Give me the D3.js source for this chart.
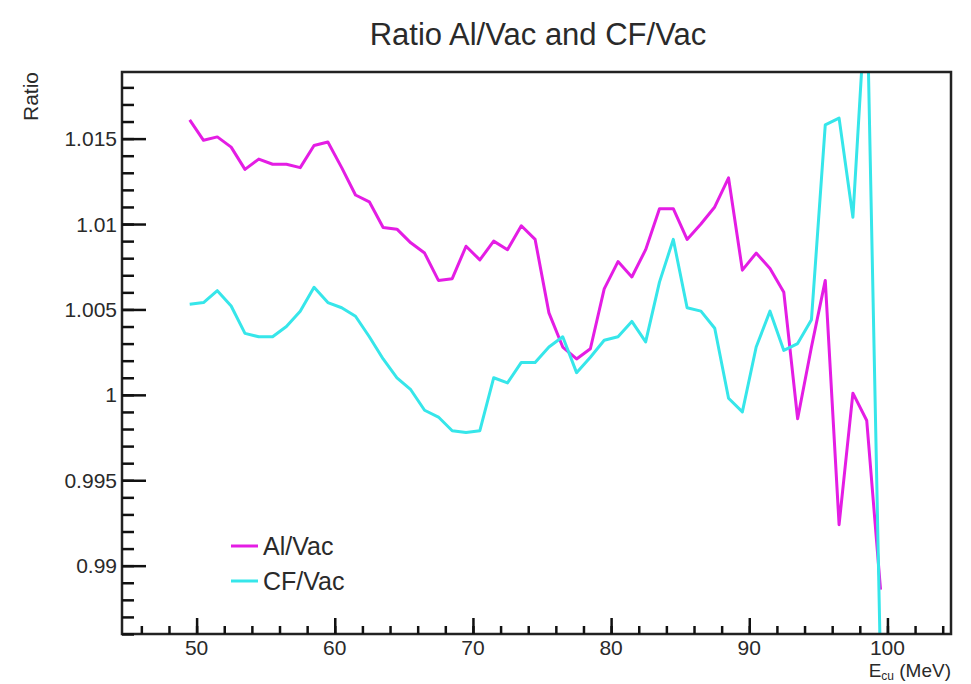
<!DOCTYPE html>
<html>
<head>
<meta charset="utf-8">
<script src="https://cdn.jsdelivr.net/npm/d3@7"></script>
<style>
  body { margin: 0; background: white; }
  text { font-family: "Liberation Sans", Arial, sans-serif; fill: #2a2a2a; }
</style>
</head>
<body>
<div id="chart"></div>
<script>
// energies (MeV), one point per bin
const energy = [49.5, 50.5, 51.5, 52.5, 53.5, 54.5, 55.5, 56.5, 57.5, 58.5,
                59.5, 60.5, 61.5, 62.5, 63.5, 64.5, 65.5, 66.5, 67.5, 68.5,
                69.5, 70.5, 71.5, 72.5, 73.5, 74.5, 75.5, 76.5, 77.5, 78.5,
                79.5, 80.5, 81.5, 82.5, 83.5, 84.5, 85.5, 86.5, 87.5, 88.5,
                89.5, 90.5, 91.5, 92.5, 93.5, 94.5, 95.5, 96.5, 97.5, 98.5, 99.5];

const alVac = [1.0161, 1.0149, 1.0151, 1.0145, 1.0132, 1.0138, 1.0135, 1.0135, 1.0133, 1.0146,
               1.0148, 1.0133, 1.0117, 1.0113, 1.0098, 1.0097, 1.0089, 1.0083, 1.0067, 1.0068,
               1.0087, 1.0079, 1.0090, 1.0085, 1.0099, 1.0091, 1.0048, 1.0028, 1.0021, 1.0027,
               1.0062, 1.0078, 1.0069, 1.0085, 1.0109, 1.0109, 1.0091, 1.0100, 1.0110, 1.0127,
               1.0073, 1.0083, 1.0074, 1.0060, 0.9986, 1.0028, 1.0067, 0.9924, 1.0001, 0.9985, 0.9886];

const cfVac = [1.0053, 1.0054, 1.0061, 1.0052, 1.0036, 1.0034, 1.0034, 1.0040, 1.0049, 1.0063,
               1.0054, 1.0051, 1.0046, 1.0034, 1.0021, 1.0010, 1.0003, 0.9991, 0.9987, 0.9979,
               0.9978, 0.9979, 1.0010, 1.0007, 1.0019, 1.0019, 1.0028, 1.0034, 1.0013, 1.0022,
               1.0032, 1.0034, 1.0043, 1.0031, 1.0066, 1.0091, 1.0051, 1.0049, 1.0039, 0.9998,
               0.9990, 1.0028, 1.0049, 1.0026, 1.0030, 1.0044, 1.0158, 1.0162, 1.0104, 1.0240, 0.9840];

const seriesNames = ["Al/Vac", "CF/Vac"];
const seriesColors = ["#e41de4", "#36e6ea"];
const yTicks = [0.99, 0.995, 1, 1.005, 1.01, 1.015];
const xTicks = [50, 60, 70, 80, 90, 100];

const W = 971, H = 684;
const plot = { left: 122, right: 951, top: 72, bottom: 634 };

const svg = d3.select('#chart').append('svg')
    .attr('width', W).attr('height', H);

const x = d3.scaleLinear().domain([44.6, 104.6]).range([plot.left, plot.right]);
const y = d3.scaleLinear().domain([0.986, 1.0189]).range([plot.bottom, plot.top]);

svg.append('defs').append('clipPath').attr('id', 'clip')
   .append('rect')
   .attr('x', plot.left).attr('y', plot.top)
   .attr('width', plot.right - plot.left).attr('height', plot.bottom - plot.top);

// data lines
const line = d3.line().x(d => x(d[0])).y(d => y(d[1]));
const series = [alVac, cfVac];
const g = svg.append('g').attr('clip-path', 'url(#clip)');
series.forEach((vals, k) => {
    g.append('path')
     .datum(energy.map((e, i) => [e, vals[i]]))
     .attr('d', line)
     .attr('fill', 'none')
     .attr('stroke', seriesColors[k])
     .attr('stroke-width', 3)
     .attr('stroke-linejoin', 'round');
});

// frame
svg.append('rect')
   .attr('x', plot.left).attr('y', plot.top)
   .attr('width', plot.right - plot.left).attr('height', plot.bottom - plot.top)
   .attr('fill', 'none').attr('stroke', '#222').attr('stroke-width', 2.5);

function styleTicks(a) {
    a.select('.domain').remove();
    a.selectAll('line').attr('stroke', '#111').attr('stroke-width', 2.5);
}

// y axis: major + minor ticks, pointing inside
const yMinor = d3.range(0.986, 1.0185, 0.001);
svg.append('g')
   .attr('transform', `translate(${plot.left},0)`)
   .call(d3.axisRight(y).tickValues(yMinor).tickSize(12).tickFormat(''))
   .call(styleTicks);
svg.append('g')
   .attr('transform', `translate(${plot.left},0)`)
   .call(d3.axisRight(y).tickValues(yTicks).tickSize(24).tickFormat(''))
   .call(styleTicks);
svg.append('g').selectAll('text')
   .data(yTicks).join('text')
   .attr('x', plot.left - 5)
   .attr('y', d => y(d) + 7.5)
   .attr('text-anchor', 'end')
   .attr('font-size', 21)
   .text(d => d3.format('')(d));

// x axis: ticks pointing up
const xMinor = d3.range(46, 105, 2);
svg.append('g')
   .attr('transform', `translate(0,${plot.bottom})`)
   .call(d3.axisTop(x).tickValues(xMinor).tickSize(8).tickFormat(''))
   .call(styleTicks);
svg.append('g')
   .attr('transform', `translate(0,${plot.bottom})`)
   .call(d3.axisTop(x).tickValues(xTicks).tickSize(16).tickFormat(''))
   .call(styleTicks);
svg.append('g').selectAll('text')
   .data(xTicks).join('text')
   .attr('x', d => x(d))
   .attr('y', plot.bottom + 21)
   .attr('text-anchor', 'middle')
   .attr('font-size', 21)
   .text(d => d);

// axis titles
const xt = svg.append('text')
   .attr('x', plot.right).attr('y', 677)
   .attr('text-anchor', 'end')
   .attr('font-size', 19);
xt.append('tspan').text('E');
xt.append('tspan').attr('dy', 3).attr('font-size', 12).text('cu');
xt.append('tspan').attr('dy', -3).text(' (MeV)');

svg.append('text')
   .attr('transform', `translate(38,${plot.top}) rotate(-90)`)
   .attr('text-anchor', 'end')
   .attr('font-size', 21)
   .text('Ratio');

// title
svg.append('text')
   .attr('x', 538).attr('y', 45)
   .attr('text-anchor', 'middle')
   .attr('font-size', 31)
   .text('Ratio Al/Vac and CF/Vac');

// legend
const leg = svg.append('g');
seriesNames.forEach((name, k) => {
    const ly = 546 + k * 35;
    leg.append('line')
       .attr('x1', 231).attr('x2', 258)
       .attr('y1', ly).attr('y2', ly)
       .attr('stroke', seriesColors[k]).attr('stroke-width', 3);
    leg.append('text')
       .attr('x', 263).attr('y', ly + 9)
       .attr('font-size', 25)
       .text(name);
});
</script>
</body>
</html>
